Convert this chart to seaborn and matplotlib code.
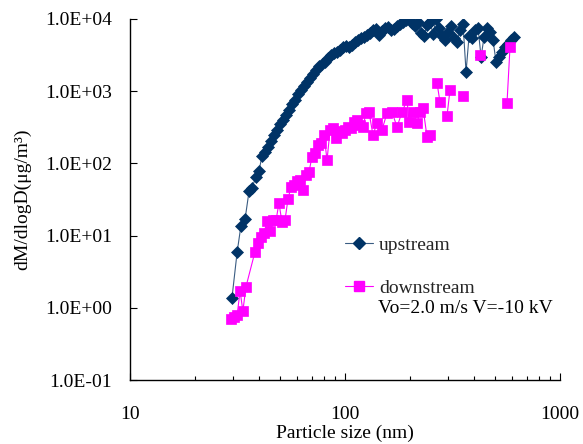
import matplotlib
matplotlib.use("Agg")
import numpy as np
import pandas as pd
import seaborn as sns
import matplotlib.pyplot as plt
from matplotlib.ticker import FuncFormatter, LogLocator, NullLocator, FixedLocator
from matplotlib.lines import Line2D

# ---------------- data ----------------
up_size = [29.8, 31.5, 32.8, 34.3, 35.8, 36.9, 38.5, 39.8, 41.1, 42.5,
           43.9, 45.3, 46.8, 48.3, 49.9, 51.5, 53.2, 54.9, 56.7, 58.5,
           60.4, 62.4, 64.4, 66.5, 68.7, 71.0, 73.3, 75.7, 78.2, 80.7,
           83.4, 86.1, 88.9, 91.8, 94.8, 97.9, 101.1, 104.4, 107.8, 111.4,
           115.0, 118.7, 122.6, 126.6, 130.7, 135.0, 139.4, 143.9, 148.6, 153.5,
           158.5, 163.7, 169.0, 174.6, 180.3, 186.2, 192.3, 198.6, 205.0, 211.8,
           218.7, 225.8, 233.2, 240.8, 248.7, 256.8, 265.2, 273.8, 282.8, 292.0,
           301.5, 311.4, 321.6, 332.0, 342.9, 354.0, 365.6, 377.6, 389.9, 402.6,
           415.8, 429.4, 443.4, 457.8, 472.8, 488.2, 504.2, 520.6, 537.6, 555.2,
           573.3, 592.0, 611.4]
up_conc = [1.37, 5.9, 13.6, 17.0, 41.5, 45.6, 64.8, 78.5, 126, 144,
           169, 204, 247, 290, 351, 399, 468, 549, 665, 755,
           915, 1040, 1180, 1340, 1523, 1730, 1966, 2234, 2380, 2537,
           2883, 3170, 3381, 3490, 3720, 4090, 4225, 4090, 4365, 4800,
           5120, 5457, 5636, 6000, 6400, 7040, 7270, 6000, 6820, 7508,
           7740, 7040, 7270, 8000, 8530, 9090, 9690, 10000, 8806, 8000,
           9090, 6400, 5820, 8260, 9090, 6200, 10000, 7508, 5820, 5120,
           6600, 8000, 5457, 4800, 7040, 8530, 1845, 5820, 5457, 7040,
           7508, 2978, 5636, 7508, 6600, 5120, 2537, 2978, 3490, 4090,
           4505, 5120, 5636]

down_size = [29.5, 30.5, 31.5, 32.5, 33.5, 34.6, 38.1, 39.4, 40.7, 42.0,
             43.4, 44.8, 46.3, 47.8, 49.3, 50.9, 52.6, 54.3, 56.1, 57.9,
             59.8, 61.7, 63.8, 65.9, 68.0, 70.2, 72.5, 74.9, 77.3, 79.9,
             82.5, 85.2, 88.0, 90.8, 93.8, 96.8, 100.0, 103.3, 106.6, 110.1,
             113.7, 117.4, 121.3, 125.2, 129.3, 134.9, 140.8, 148.6, 156.8, 165.4,
             174.6, 184.1, 194.3, 198.6, 207.3, 216.3, 223.3, 230.6, 240.8, 248.7,
             267.9, 276.6, 298.2, 307.8, 353.9, 424.6, 566.9, 585.4]
down_conc = [0.70, 0.75, 0.79, 1.71, 0.90, 1.94, 5.9, 7.9, 9.6, 10.9,
             15.9, 11.6, 16.4, 16.4, 28.3, 15.4, 16.4, 32.1, 47.1, 50.2,
             57.0, 58.9, 42.8, 69.1, 76.0, 123, 139, 180, 192, 247,
             111, 290, 309, 225, 281, 264, 290, 319, 309, 374,
             399, 340, 319, 499, 515, 247, 363, 290, 499, 515,
             319, 515, 755, 374, 515, 363, 515, 585, 232, 247,
             1299, 708, 454, 1040, 859, 3170, 687, 4090]
down_segment = [0] * 60 + [1, 1, 2, 2, 3, 4, 5, 5]

series_labels = ["upstream", "downstream"]
note_text = "Vo=2.0 m/s V=-10 kV"
x_label = "Particle size (nm)"
y_label = "dM/dlogD(\u03bcg/m\u00b3)"

up_df = pd.DataFrame({"size": up_size, "conc": up_conc})
down_df = pd.DataFrame({"size": down_size, "conc": down_conc, "seg": down_segment})

# ---------------- style ----------------
sns.set_theme(style="white")
plt.rcParams["font.family"] = ["Liberation Serif", "DejaVu Serif"]
FS = 14
navy = "#003366"
navy_line = "#3a5c82"
magenta = "#FF00FF"

fig = plt.figure(figsize=(5.83, 4.44), dpi=100)
ax = fig.add_axes([130 / 583, 1 - 380 / 444, 430 / 583, 361 / 444])
ax.set_xscale("log")
ax.set_yscale("log")

sns.lineplot(data=up_df, x="size", y="conc", ax=ax, sort=False, estimator=None,
             color=navy_line, linewidth=0.8, marker="D", markersize=6.0,
             markeredgecolor=navy, markerfacecolor=navy, markeredgewidth=0.5,
             legend=False)
sns.lineplot(data=down_df, x="size", y="conc", units="seg", ax=ax, sort=False,
             estimator=None, color=magenta, linewidth=0.8, marker="s",
             markersize=7.2, markeredgecolor=magenta, markerfacecolor=magenta,
             markeredgewidth=0.5, legend=False)

ax.set_xlim(10, 1000)
ax.set_ylim(0.1, 1e4)

sns.despine(ax=ax)
for s in ("left", "bottom"):
    ax.spines[s].set_color("black")
    ax.spines[s].set_linewidth(1.0)

ax.xaxis.set_major_locator(FixedLocator([10, 100, 1000]))
ax.xaxis.set_minor_locator(LogLocator(base=10, subs=np.arange(2, 10)))
ax.xaxis.set_major_formatter(FuncFormatter(lambda v, p: f"{v:g}"))
ax.yaxis.set_major_locator(FixedLocator([0.1, 1, 10, 100, 1000, 10000]))
ax.yaxis.set_minor_locator(NullLocator())
ax.yaxis.set_major_formatter(FuncFormatter(lambda v, p: f"{v:.1E}"))

ax.tick_params(axis="both", which="both", direction="in", colors="black",
               labelsize=FS, width=0.8)
ax.tick_params(axis="both", which="major", length=5)
ax.tick_params(axis="x", which="minor", length=3)
ax.tick_params(axis="y", which="major", pad=13, left=True)
ax.tick_params(axis="x", which="both", pad=19, bottom=True)

ax.set_xlabel(x_label, fontsize=FS, labelpad=1, color="black")
ax.set_ylabel(y_label, fontsize=FS, labelpad=10, color="black")

handles = [
    Line2D([], [], color=navy_line, lw=0.8, marker="D", markersize=6.0,
           markerfacecolor=navy, markeredgecolor=navy),
    Line2D([], [], color=magenta, lw=0.8, marker="s", markersize=7.2,
           markerfacecolor=magenta, markeredgecolor=magenta),
]
ax.legend(handles, series_labels, loc="upper left", bbox_to_anchor=(0.5, 0.399),
          frameon=False, fontsize=FS, handlelength=1.45, handletextpad=0.3,
          labelspacing=1.32, borderpad=0, borderaxespad=0)
ax.text(0.577, 0.197, note_text, transform=ax.transAxes, fontsize=FS,
        ha="left", va="center", color="black")

fig.savefig("out.png", dpi=100)
